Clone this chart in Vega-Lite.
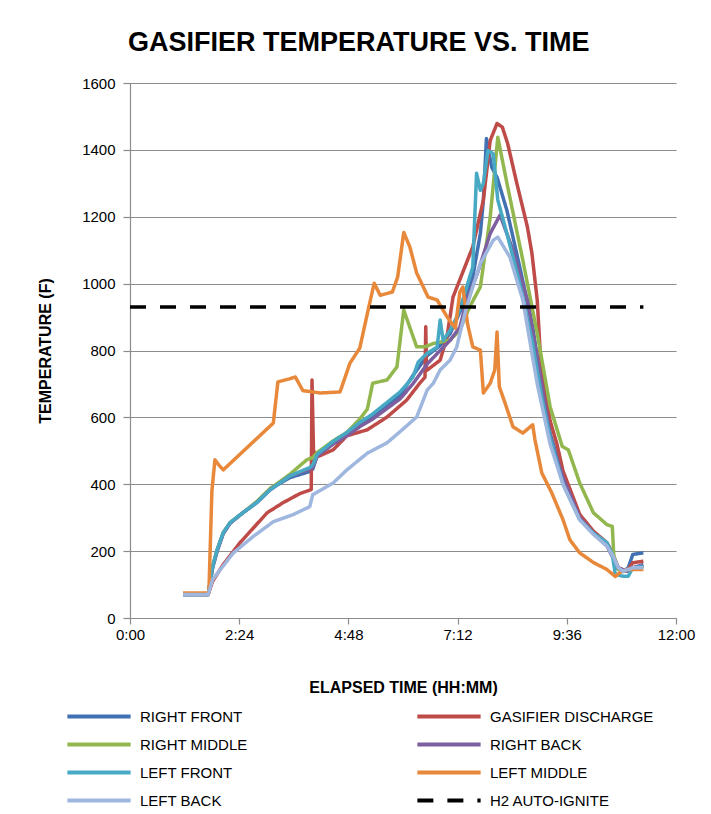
{
  "$schema": "https://vega.github.io/schema/vega-lite/v6.json",
  "autosize": {"type": "none"},
  "width": 546,
  "height": 535,
  "padding": {"left": 130, "top": 83, "right": 35, "bottom": 196},
  "background": "white",
  "config": {
    "font": "Liberation Sans",
    "view": {"stroke": null},
    "axis": {"labelFont": "Liberation Sans", "titleFont": "Liberation Sans", "labelColor": "#000", "titleColor": "#000"}
  },
  "title": {
    "text": "GASIFIER TEMPERATURE  VS. TIME",
    "anchor": "start",
    "frame": "group",
    "dx": -2,
    "offset": 19,
    "fontSize": 27,
    "fontWeight": "bold",
    "font": "Liberation Sans",
    "color": "#000"
  },
  "data": {
    "values": [
      {"s": "RIGHT FRONT", "t": 70, "v": 70}, {"s": "RIGHT FRONT", "t": 103, "v": 70}, {"s": "RIGHT FRONT", "t": 109, "v": 154}, {"s": "RIGHT FRONT", "t": 115, "v": 204}, {"s": "RIGHT FRONT", "t": 123, "v": 255}, {"s": "RIGHT FRONT", "t": 132, "v": 285}, {"s": "RIGHT FRONT", "t": 149, "v": 315}, {"s": "RIGHT FRONT", "t": 167, "v": 345}, {"s": "RIGHT FRONT", "t": 185, "v": 384}, {"s": "RIGHT FRONT", "t": 194, "v": 398}, {"s": "RIGHT FRONT", "t": 211, "v": 420}, {"s": "RIGHT FRONT", "t": 237, "v": 438}, {"s": "RIGHT FRONT", "t": 241, "v": 445}, {"s": "RIGHT FRONT", "t": 247, "v": 488}, {"s": "RIGHT FRONT", "t": 268, "v": 524}, {"s": "RIGHT FRONT", "t": 286, "v": 548}, {"s": "RIGHT FRONT", "t": 303, "v": 578}, {"s": "RIGHT FRONT", "t": 320, "v": 601}, {"s": "RIGHT FRONT", "t": 356, "v": 665}, {"s": "RIGHT FRONT", "t": 373, "v": 725}, {"s": "RIGHT FRONT", "t": 392, "v": 785}, {"s": "RIGHT FRONT", "t": 409, "v": 815}, {"s": "RIGHT FRONT", "t": 422, "v": 850}, {"s": "RIGHT FRONT", "t": 431, "v": 895}, {"s": "RIGHT FRONT", "t": 444, "v": 960}, {"s": "RIGHT FRONT", "t": 452, "v": 1020}, {"s": "RIGHT FRONT", "t": 462, "v": 1150}, {"s": "RIGHT FRONT", "t": 466, "v": 1250}, {"s": "RIGHT FRONT", "t": 470, "v": 1434}, {"s": "RIGHT FRONT", "t": 477, "v": 1348}, {"s": "RIGHT FRONT", "t": 484, "v": 1318}, {"s": "RIGHT FRONT", "t": 497, "v": 1219}, {"s": "RIGHT FRONT", "t": 514, "v": 1049}, {"s": "RIGHT FRONT", "t": 531, "v": 871}, {"s": "RIGHT FRONT", "t": 543, "v": 690}, {"s": "RIGHT FRONT", "t": 554, "v": 552}, {"s": "RIGHT FRONT", "t": 571, "v": 420}, {"s": "RIGHT FRONT", "t": 593, "v": 300}, {"s": "RIGHT FRONT", "t": 611, "v": 254}, {"s": "RIGHT FRONT", "t": 629, "v": 222}, {"s": "RIGHT FRONT", "t": 636, "v": 195}, {"s": "RIGHT FRONT", "t": 641, "v": 150}, {"s": "RIGHT FRONT", "t": 650, "v": 139}, {"s": "RIGHT FRONT", "t": 657, "v": 150}, {"s": "RIGHT FRONT", "t": 663, "v": 190}, {"s": "RIGHT FRONT", "t": 677, "v": 195},

      {"s": "GASIFIER DISCHARGE", "t": 70, "v": 70}, {"s": "GASIFIER DISCHARGE", "t": 103, "v": 70}, {"s": "GASIFIER DISCHARGE", "t": 109, "v": 110}, {"s": "GASIFIER DISCHARGE", "t": 123, "v": 160}, {"s": "GASIFIER DISCHARGE", "t": 145, "v": 225}, {"s": "GASIFIER DISCHARGE", "t": 167, "v": 280}, {"s": "GASIFIER DISCHARGE", "t": 181, "v": 315}, {"s": "GASIFIER DISCHARGE", "t": 202, "v": 345}, {"s": "GASIFIER DISCHARGE", "t": 224, "v": 372}, {"s": "GASIFIER DISCHARGE", "t": 239, "v": 384}, {"s": "GASIFIER DISCHARGE", "t": 240, "v": 712}, {"s": "GASIFIER DISCHARGE", "t": 242, "v": 500}, {"s": "GASIFIER DISCHARGE", "t": 247, "v": 482}, {"s": "GASIFIER DISCHARGE", "t": 268, "v": 503}, {"s": "GASIFIER DISCHARGE", "t": 286, "v": 545}, {"s": "GASIFIER DISCHARGE", "t": 313, "v": 563}, {"s": "GASIFIER DISCHARGE", "t": 339, "v": 601}, {"s": "GASIFIER DISCHARGE", "t": 365, "v": 652}, {"s": "GASIFIER DISCHARGE", "t": 382, "v": 702}, {"s": "GASIFIER DISCHARGE", "t": 389, "v": 720}, {"s": "GASIFIER DISCHARGE", "t": 390, "v": 871}, {"s": "GASIFIER DISCHARGE", "t": 391, "v": 740}, {"s": "GASIFIER DISCHARGE", "t": 409, "v": 771}, {"s": "GASIFIER DISCHARGE", "t": 418, "v": 841}, {"s": "GASIFIER DISCHARGE", "t": 426, "v": 960}, {"s": "GASIFIER DISCHARGE", "t": 452, "v": 1110}, {"s": "GASIFIER DISCHARGE", "t": 466, "v": 1250}, {"s": "GASIFIER DISCHARGE", "t": 475, "v": 1428}, {"s": "GASIFIER DISCHARGE", "t": 484, "v": 1479}, {"s": "GASIFIER DISCHARGE", "t": 491, "v": 1468}, {"s": "GASIFIER DISCHARGE", "t": 498, "v": 1419}, {"s": "GASIFIER DISCHARGE", "t": 510, "v": 1301}, {"s": "GASIFIER DISCHARGE", "t": 524, "v": 1170}, {"s": "GASIFIER DISCHARGE", "t": 530, "v": 1091}, {"s": "GASIFIER DISCHARGE", "t": 537, "v": 951}, {"s": "GASIFIER DISCHARGE", "t": 541, "v": 792}, {"s": "GASIFIER DISCHARGE", "t": 545, "v": 700}, {"s": "GASIFIER DISCHARGE", "t": 554, "v": 590}, {"s": "GASIFIER DISCHARGE", "t": 563, "v": 520}, {"s": "GASIFIER DISCHARGE", "t": 571, "v": 440}, {"s": "GASIFIER DISCHARGE", "t": 593, "v": 310}, {"s": "GASIFIER DISCHARGE", "t": 611, "v": 260}, {"s": "GASIFIER DISCHARGE", "t": 629, "v": 225}, {"s": "GASIFIER DISCHARGE", "t": 637, "v": 190}, {"s": "GASIFIER DISCHARGE", "t": 644, "v": 150}, {"s": "GASIFIER DISCHARGE", "t": 655, "v": 140}, {"s": "GASIFIER DISCHARGE", "t": 663, "v": 165}, {"s": "GASIFIER DISCHARGE", "t": 677, "v": 170},

      {"s": "RIGHT MIDDLE", "t": 70, "v": 70}, {"s": "RIGHT MIDDLE", "t": 103, "v": 70}, {"s": "RIGHT MIDDLE", "t": 109, "v": 154}, {"s": "RIGHT MIDDLE", "t": 115, "v": 204}, {"s": "RIGHT MIDDLE", "t": 123, "v": 255}, {"s": "RIGHT MIDDLE", "t": 132, "v": 285}, {"s": "RIGHT MIDDLE", "t": 149, "v": 315}, {"s": "RIGHT MIDDLE", "t": 167, "v": 348}, {"s": "RIGHT MIDDLE", "t": 185, "v": 388}, {"s": "RIGHT MIDDLE", "t": 194, "v": 402}, {"s": "RIGHT MIDDLE", "t": 211, "v": 430}, {"s": "RIGHT MIDDLE", "t": 233, "v": 473}, {"s": "RIGHT MIDDLE", "t": 241, "v": 480}, {"s": "RIGHT MIDDLE", "t": 247, "v": 495}, {"s": "RIGHT MIDDLE", "t": 268, "v": 530}, {"s": "RIGHT MIDDLE", "t": 286, "v": 555}, {"s": "RIGHT MIDDLE", "t": 303, "v": 595}, {"s": "RIGHT MIDDLE", "t": 313, "v": 625}, {"s": "RIGHT MIDDLE", "t": 320, "v": 702}, {"s": "RIGHT MIDDLE", "t": 339, "v": 712}, {"s": "RIGHT MIDDLE", "t": 352, "v": 751}, {"s": "RIGHT MIDDLE", "t": 361, "v": 921}, {"s": "RIGHT MIDDLE", "t": 378, "v": 811}, {"s": "RIGHT MIDDLE", "t": 389, "v": 811}, {"s": "RIGHT MIDDLE", "t": 400, "v": 821}, {"s": "RIGHT MIDDLE", "t": 422, "v": 831}, {"s": "RIGHT MIDDLE", "t": 435, "v": 861}, {"s": "RIGHT MIDDLE", "t": 448, "v": 931}, {"s": "RIGHT MIDDLE", "t": 462, "v": 990}, {"s": "RIGHT MIDDLE", "t": 475, "v": 1199}, {"s": "RIGHT MIDDLE", "t": 485, "v": 1438}, {"s": "RIGHT MIDDLE", "t": 497, "v": 1301}, {"s": "RIGHT MIDDLE", "t": 518, "v": 1070}, {"s": "RIGHT MIDDLE", "t": 537, "v": 851}, {"s": "RIGHT MIDDLE", "t": 554, "v": 632}, {"s": "RIGHT MIDDLE", "t": 570, "v": 513}, {"s": "RIGHT MIDDLE", "t": 578, "v": 503}, {"s": "RIGHT MIDDLE", "t": 593, "v": 404}, {"s": "RIGHT MIDDLE", "t": 611, "v": 315}, {"s": "RIGHT MIDDLE", "t": 629, "v": 279}, {"s": "RIGHT MIDDLE", "t": 636, "v": 274}, {"s": "RIGHT MIDDLE", "t": 638, "v": 185}, {"s": "RIGHT MIDDLE", "t": 644, "v": 145}, {"s": "RIGHT MIDDLE", "t": 655, "v": 140}, {"s": "RIGHT MIDDLE", "t": 663, "v": 150}, {"s": "RIGHT MIDDLE", "t": 677, "v": 155},

      {"s": "RIGHT BACK", "t": 70, "v": 70}, {"s": "RIGHT BACK", "t": 103, "v": 70}, {"s": "RIGHT BACK", "t": 109, "v": 150}, {"s": "RIGHT BACK", "t": 115, "v": 200}, {"s": "RIGHT BACK", "t": 123, "v": 252}, {"s": "RIGHT BACK", "t": 132, "v": 283}, {"s": "RIGHT BACK", "t": 149, "v": 315}, {"s": "RIGHT BACK", "t": 167, "v": 345}, {"s": "RIGHT BACK", "t": 185, "v": 384}, {"s": "RIGHT BACK", "t": 194, "v": 398}, {"s": "RIGHT BACK", "t": 211, "v": 425}, {"s": "RIGHT BACK", "t": 237, "v": 445}, {"s": "RIGHT BACK", "t": 241, "v": 450}, {"s": "RIGHT BACK", "t": 247, "v": 485}, {"s": "RIGHT BACK", "t": 268, "v": 520}, {"s": "RIGHT BACK", "t": 286, "v": 545}, {"s": "RIGHT BACK", "t": 303, "v": 572}, {"s": "RIGHT BACK", "t": 320, "v": 595}, {"s": "RIGHT BACK", "t": 356, "v": 655}, {"s": "RIGHT BACK", "t": 373, "v": 700}, {"s": "RIGHT BACK", "t": 392, "v": 760}, {"s": "RIGHT BACK", "t": 409, "v": 800}, {"s": "RIGHT BACK", "t": 422, "v": 830}, {"s": "RIGHT BACK", "t": 435, "v": 870}, {"s": "RIGHT BACK", "t": 444, "v": 950}, {"s": "RIGHT BACK", "t": 458, "v": 1030}, {"s": "RIGHT BACK", "t": 475, "v": 1150}, {"s": "RIGHT BACK", "t": 488, "v": 1205}, {"s": "RIGHT BACK", "t": 505, "v": 1100}, {"s": "RIGHT BACK", "t": 524, "v": 951}, {"s": "RIGHT BACK", "t": 543, "v": 700}, {"s": "RIGHT BACK", "t": 554, "v": 545}, {"s": "RIGHT BACK", "t": 571, "v": 420}, {"s": "RIGHT BACK", "t": 593, "v": 300}, {"s": "RIGHT BACK", "t": 611, "v": 254}, {"s": "RIGHT BACK", "t": 629, "v": 215}, {"s": "RIGHT BACK", "t": 637, "v": 180}, {"s": "RIGHT BACK", "t": 644, "v": 150}, {"s": "RIGHT BACK", "t": 655, "v": 140}, {"s": "RIGHT BACK", "t": 663, "v": 150}, {"s": "RIGHT BACK", "t": 677, "v": 160},

      {"s": "LEFT FRONT", "t": 70, "v": 70}, {"s": "LEFT FRONT", "t": 103, "v": 70}, {"s": "LEFT FRONT", "t": 109, "v": 154}, {"s": "LEFT FRONT", "t": 115, "v": 204}, {"s": "LEFT FRONT", "t": 123, "v": 255}, {"s": "LEFT FRONT", "t": 132, "v": 285}, {"s": "LEFT FRONT", "t": 149, "v": 315}, {"s": "LEFT FRONT", "t": 167, "v": 345}, {"s": "LEFT FRONT", "t": 185, "v": 384}, {"s": "LEFT FRONT", "t": 194, "v": 398}, {"s": "LEFT FRONT", "t": 211, "v": 425}, {"s": "LEFT FRONT", "t": 237, "v": 450}, {"s": "LEFT FRONT", "t": 241, "v": 458}, {"s": "LEFT FRONT", "t": 247, "v": 490}, {"s": "LEFT FRONT", "t": 268, "v": 528}, {"s": "LEFT FRONT", "t": 286, "v": 555}, {"s": "LEFT FRONT", "t": 303, "v": 585}, {"s": "LEFT FRONT", "t": 320, "v": 610}, {"s": "LEFT FRONT", "t": 356, "v": 676}, {"s": "LEFT FRONT", "t": 373, "v": 720}, {"s": "LEFT FRONT", "t": 380, "v": 765}, {"s": "LEFT FRONT", "t": 392, "v": 792}, {"s": "LEFT FRONT", "t": 405, "v": 810}, {"s": "LEFT FRONT", "t": 409, "v": 891}, {"s": "LEFT FRONT", "t": 413, "v": 830}, {"s": "LEFT FRONT", "t": 422, "v": 860}, {"s": "LEFT FRONT", "t": 431, "v": 900}, {"s": "LEFT FRONT", "t": 440, "v": 960}, {"s": "LEFT FRONT", "t": 452, "v": 1050}, {"s": "LEFT FRONT", "t": 457, "v": 1330}, {"s": "LEFT FRONT", "t": 462, "v": 1279}, {"s": "LEFT FRONT", "t": 466, "v": 1300}, {"s": "LEFT FRONT", "t": 472, "v": 1398}, {"s": "LEFT FRONT", "t": 479, "v": 1388}, {"s": "LEFT FRONT", "t": 485, "v": 1250}, {"s": "LEFT FRONT", "t": 497, "v": 1150}, {"s": "LEFT FRONT", "t": 514, "v": 1000}, {"s": "LEFT FRONT", "t": 531, "v": 820}, {"s": "LEFT FRONT", "t": 543, "v": 660}, {"s": "LEFT FRONT", "t": 554, "v": 540}, {"s": "LEFT FRONT", "t": 571, "v": 400}, {"s": "LEFT FRONT", "t": 593, "v": 294}, {"s": "LEFT FRONT", "t": 611, "v": 254}, {"s": "LEFT FRONT", "t": 629, "v": 225}, {"s": "LEFT FRONT", "t": 636, "v": 190}, {"s": "LEFT FRONT", "t": 640, "v": 130}, {"s": "LEFT FRONT", "t": 650, "v": 125}, {"s": "LEFT FRONT", "t": 657, "v": 125}, {"s": "LEFT FRONT", "t": 663, "v": 150}, {"s": "LEFT FRONT", "t": 677, "v": 155},

      {"s": "LEFT MIDDLE", "t": 70, "v": 75}, {"s": "LEFT MIDDLE", "t": 104, "v": 75}, {"s": "LEFT MIDDLE", "t": 108, "v": 380}, {"s": "LEFT MIDDLE", "t": 112, "v": 473}, {"s": "LEFT MIDDLE", "t": 117, "v": 458}, {"s": "LEFT MIDDLE", "t": 123, "v": 443}, {"s": "LEFT MIDDLE", "t": 189, "v": 583}, {"s": "LEFT MIDDLE", "t": 195, "v": 706}, {"s": "LEFT MIDDLE", "t": 210, "v": 715}, {"s": "LEFT MIDDLE", "t": 218, "v": 721}, {"s": "LEFT MIDDLE", "t": 228, "v": 680}, {"s": "LEFT MIDDLE", "t": 251, "v": 673}, {"s": "LEFT MIDDLE", "t": 277, "v": 676}, {"s": "LEFT MIDDLE", "t": 290, "v": 762}, {"s": "LEFT MIDDLE", "t": 303, "v": 807}, {"s": "LEFT MIDDLE", "t": 314, "v": 921}, {"s": "LEFT MIDDLE", "t": 322, "v": 1001}, {"s": "LEFT MIDDLE", "t": 330, "v": 965}, {"s": "LEFT MIDDLE", "t": 346, "v": 975}, {"s": "LEFT MIDDLE", "t": 353, "v": 1020}, {"s": "LEFT MIDDLE", "t": 361, "v": 1153}, {"s": "LEFT MIDDLE", "t": 369, "v": 1110}, {"s": "LEFT MIDDLE", "t": 378, "v": 1032}, {"s": "LEFT MIDDLE", "t": 393, "v": 960}, {"s": "LEFT MIDDLE", "t": 405, "v": 951}, {"s": "LEFT MIDDLE", "t": 418, "v": 901}, {"s": "LEFT MIDDLE", "t": 429, "v": 867}, {"s": "LEFT MIDDLE", "t": 435, "v": 975}, {"s": "LEFT MIDDLE", "t": 439, "v": 990}, {"s": "LEFT MIDDLE", "t": 445, "v": 881}, {"s": "LEFT MIDDLE", "t": 452, "v": 811}, {"s": "LEFT MIDDLE", "t": 462, "v": 801}, {"s": "LEFT MIDDLE", "t": 466, "v": 673}, {"s": "LEFT MIDDLE", "t": 475, "v": 702}, {"s": "LEFT MIDDLE", "t": 481, "v": 742}, {"s": "LEFT MIDDLE", "t": 484, "v": 855}, {"s": "LEFT MIDDLE", "t": 487, "v": 692}, {"s": "LEFT MIDDLE", "t": 495, "v": 640}, {"s": "LEFT MIDDLE", "t": 505, "v": 572}, {"s": "LEFT MIDDLE", "t": 518, "v": 553}, {"s": "LEFT MIDDLE", "t": 531, "v": 578}, {"s": "LEFT MIDDLE", "t": 534, "v": 533}, {"s": "LEFT MIDDLE", "t": 543, "v": 434}, {"s": "LEFT MIDDLE", "t": 556, "v": 375}, {"s": "LEFT MIDDLE", "t": 571, "v": 294}, {"s": "LEFT MIDDLE", "t": 580, "v": 234}, {"s": "LEFT MIDDLE", "t": 593, "v": 195}, {"s": "LEFT MIDDLE", "t": 611, "v": 166}, {"s": "LEFT MIDDLE", "t": 629, "v": 145}, {"s": "LEFT MIDDLE", "t": 640, "v": 124}, {"s": "LEFT MIDDLE", "t": 646, "v": 136}, {"s": "LEFT MIDDLE", "t": 655, "v": 145}, {"s": "LEFT MIDDLE", "t": 663, "v": 145}, {"s": "LEFT MIDDLE", "t": 677, "v": 145},

      {"s": "LEFT BACK", "t": 70, "v": 70}, {"s": "LEFT BACK", "t": 103, "v": 70}, {"s": "LEFT BACK", "t": 109, "v": 115}, {"s": "LEFT BACK", "t": 136, "v": 194}, {"s": "LEFT BACK", "t": 162, "v": 243}, {"s": "LEFT BACK", "t": 189, "v": 288}, {"s": "LEFT BACK", "t": 215, "v": 309}, {"s": "LEFT BACK", "t": 237, "v": 333}, {"s": "LEFT BACK", "t": 241, "v": 369}, {"s": "LEFT BACK", "t": 268, "v": 404}, {"s": "LEFT BACK", "t": 286, "v": 443}, {"s": "LEFT BACK", "t": 313, "v": 493}, {"s": "LEFT BACK", "t": 339, "v": 524}, {"s": "LEFT BACK", "t": 356, "v": 557}, {"s": "LEFT BACK", "t": 378, "v": 601}, {"s": "LEFT BACK", "t": 392, "v": 682}, {"s": "LEFT BACK", "t": 400, "v": 702}, {"s": "LEFT BACK", "t": 409, "v": 742}, {"s": "LEFT BACK", "t": 422, "v": 771}, {"s": "LEFT BACK", "t": 431, "v": 811}, {"s": "LEFT BACK", "t": 435, "v": 851}, {"s": "LEFT BACK", "t": 444, "v": 931}, {"s": "LEFT BACK", "t": 452, "v": 990}, {"s": "LEFT BACK", "t": 462, "v": 1060}, {"s": "LEFT BACK", "t": 479, "v": 1130}, {"s": "LEFT BACK", "t": 485, "v": 1139}, {"s": "LEFT BACK", "t": 501, "v": 1079}, {"s": "LEFT BACK", "t": 518, "v": 951}, {"s": "LEFT BACK", "t": 537, "v": 700}, {"s": "LEFT BACK", "t": 554, "v": 520}, {"s": "LEFT BACK", "t": 571, "v": 400}, {"s": "LEFT BACK", "t": 593, "v": 294}, {"s": "LEFT BACK", "t": 611, "v": 250}, {"s": "LEFT BACK", "t": 629, "v": 215}, {"s": "LEFT BACK", "t": 637, "v": 185}, {"s": "LEFT BACK", "t": 644, "v": 150}, {"s": "LEFT BACK", "t": 650, "v": 140}, {"s": "LEFT BACK", "t": 663, "v": 150}, {"s": "LEFT BACK", "t": 677, "v": 150},

      {"s": "H2 AUTO-IGNITE", "t": 0, "v": 930}, {"s": "H2 AUTO-IGNITE", "t": 677, "v": 930}
    ]
  },
  "mark": {"type": "line", "strokeWidth": 3.5, "strokeJoin": "round", "strokeCap": "butt", "interpolate": "linear"},
  "encoding": {
    "x": {
      "field": "t", "type": "quantitative",
      "scale": {"domain": [0, 720], "nice": false, "zero": false},
      "axis": {
        "values": [0, 144, 288, 432, 576, 720],
        "labelExpr": "floor(datum.value/60) + ':' + (datum.value%60 < 10 ? '0' : '') + (datum.value%60)",
        "title": "ELAPSED TIME (HH:MM)",
        "titleFontSize": 16, "titleFontWeight": "bold", "titlePadding": 37,
        "labelFontSize": 15, "labelPadding": 3,
        "grid": false, "domainColor": "#8c8c8c", "tickColor": "#8c8c8c", "tickSize": 6,
        "domainWidth": 1.2, "tickWidth": 1.2, "labelFlush": false
      }
    },
    "y": {
      "field": "v", "type": "quantitative",
      "scale": {"domain": [0, 1600], "nice": false},
      "axis": {
        "values": [0, 200, 400, 600, 800, 1000, 1200, 1400, 1600],
        "format": "d",
        "title": "TEMPERATURE (F)",
        "titleFontSize": 16, "titleFontWeight": "bold", "titlePadding": 28,
        "labelFontSize": 15, "labelPadding": 8,
        "grid": true, "gridColor": "#8c8c8c", "gridWidth": 1.2,
        "domainColor": "#8c8c8c", "tickColor": "#8c8c8c", "tickSize": 7,
        "domainWidth": 1.2, "tickWidth": 1.2
      }
    },
    "color": {
      "field": "s", "type": "nominal",
      "scale": {
        "domain": ["RIGHT FRONT", "GASIFIER DISCHARGE", "RIGHT MIDDLE", "RIGHT BACK", "LEFT FRONT", "LEFT MIDDLE", "LEFT BACK", "H2 AUTO-IGNITE"],
        "range": ["#4171b3", "#be4b48", "#92b74e", "#7d5fa0", "#47a9c4", "#e8883a", "#9fb7df", "#000000"]
      },
      "sort": null,
      "legend": {
        "title": null,
        "orient": "none",
        "direction": "horizontal",
        "legendX": -65,
        "legendY": 625,
        "columns": 2,
        "columnPadding": 167,
        "rowPadding": 11,
        "clipHeight": 17,
        "symbolType": "stroke",
        "symbolSize": 4000,
        "symbolStrokeWidth": 4,
        "labelFontSize": 15,
        "labelOffset": 7,
        "labelColor": "#000",
        "labelLimit": 300,
        "padding": 0
      }
    },
    "strokeDash": {
      "field": "s", "type": "nominal",
      "scale": {
        "domain": ["RIGHT FRONT", "GASIFIER DISCHARGE", "RIGHT MIDDLE", "RIGHT BACK", "LEFT FRONT", "LEFT MIDDLE", "LEFT BACK", "H2 AUTO-IGNITE"],
        "range": [[1, 0], [1, 0], [1, 0], [1, 0], [1, 0], [1, 0], [1, 0], [16, 14]]
      },
      "sort": null,
      "legend": {
        "title": null,
        "orient": "none",
        "direction": "horizontal",
        "legendX": -65,
        "legendY": 625,
        "columns": 2,
        "columnPadding": 167,
        "rowPadding": 11,
        "clipHeight": 17,
        "symbolType": "stroke",
        "symbolSize": 4000,
        "symbolStrokeWidth": 4,
        "labelFontSize": 15,
        "labelOffset": 7,
        "labelColor": "#000",
        "labelLimit": 300,
        "padding": 0
      }
    }
  }
}
